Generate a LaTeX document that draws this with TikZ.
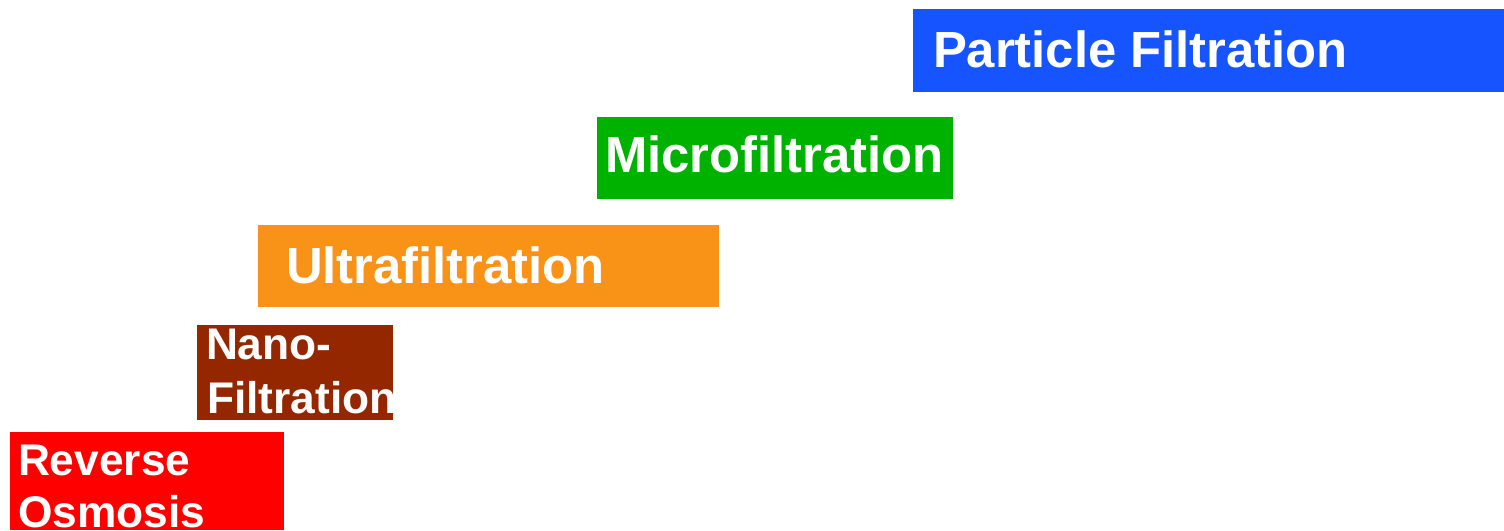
\documentclass[tikz,border=0pt]{standalone}
\usepackage{fontspec}
\setmainfont{Liberation Sans}
\definecolor{roRed}{RGB}{255,0,0}
\definecolor{nfBrown}{RGB}{149,39,0}
\definecolor{ufOrange}{RGB}{249,147,24}
\definecolor{mfGreen}{RGB}{0,178,0}
\definecolor{pfBlue}{RGB}{22,84,255}
\begin{document}
\begin{tikzpicture}[x=1pt,y=-1pt,
  band/.style={rectangle, inner sep=0pt, outer sep=0pt, anchor=north west},
  bigtext/.style={anchor=base west, inner sep=0pt, outer sep=0pt, text=white,
    font=\fontsize{50.8}{60}\selectfont\bfseries},
  smalltext/.style={anchor=base west, inner sep=0pt, outer sep=0pt, text=white,
    font=\fontsize{44.3}{52}\selectfont\bfseries}]
  \useasboundingbox (0,0) rectangle (1504,530);
  % coloured bands, one per filtration range
  \node[band, fill=pfBlue,   minimum width=591pt, minimum height=83pt] (pfbox) at (913,9)   {};
  \node[band, fill=mfGreen,  minimum width=356pt, minimum height=82pt] (mfbox) at (597,117) {};
  \node[band, fill=ufOrange, minimum width=461pt, minimum height=82pt] (ufbox) at (258,225) {};
  \node[band, fill=nfBrown,  minimum width=196pt, minimum height=95pt] (nfbox) at (197,325) {};
  \node[band, fill=roRed,    minimum width=274pt, minimum height=98pt] (robox) at (10,432)  {};
  % labels
  \node[bigtext] (pflabel) at (933,67)  {Particle Filtration};
  \node[bigtext] (mflabel) at (605,172) {Microfiltration};
  \node[bigtext] (uflabel) at (286,283) {Ultrafiltration};
  \node[smalltext] (nflabelA) at (206,359) {Nano-};
  \node[smalltext] (nflabelB) at (207,413) {Filtration};
  \node[smalltext] (rolabelA) at (18,475) {Reverse};
  \node[smalltext] (rolabelB) at (18,527) {Osmosis};
\end{tikzpicture}
\end{document}
